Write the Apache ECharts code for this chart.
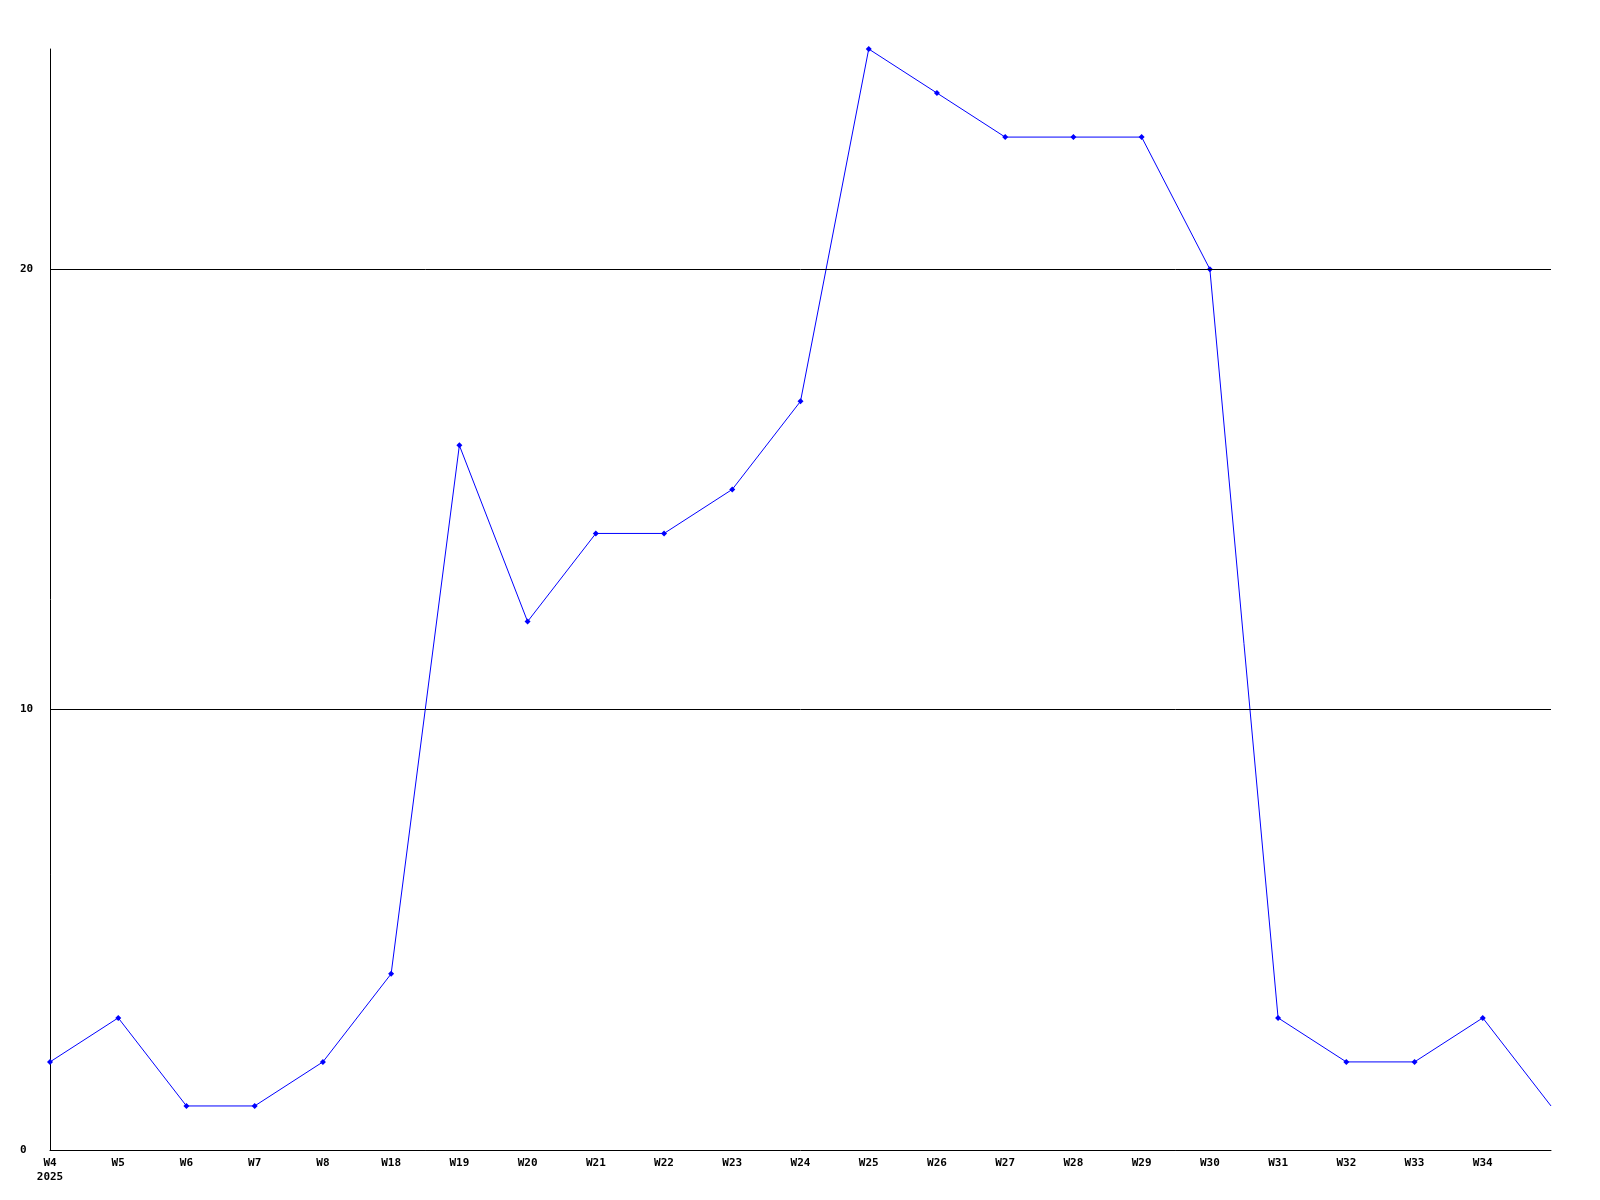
<!DOCTYPE html>
<html>
<head>
<meta charset="utf-8">
<script src="https://cdn.jsdelivr.net/npm/echarts@6/dist/echarts.min.js"></script>
<style>
html,body{margin:0;padding:0;background:#fff;}
#chart{width:1600px;height:1200px;}
</style>
</head>
<body>
<div id="chart"></div>
<script>
const categories = ['W4\n2025','W5','W6','W7','W8','W18','W19','W20','W21','W22','W23','W24','W25','W26','W27','W28','W29','W30','W31','W32','W33','W34',''];
const values = [2,3,1,1,2,4,16,12,14,14,15,17,25,24,23,23,23,20,3,2,2,3,1];
const gridLines = [10,20];

const chart = echarts.init(document.getElementById('chart'));
const font = {fontFamily:'DejaVu Sans Mono', fontWeight:'bold', fontSize:11, color:'#000'};
chart.setOption({
  animation:false,
  backgroundColor:'#fff',
  grid:{left:50,right:49,top:49,bottom:50,containLabel:false},
  xAxis:{
    type:'category',
    data:categories,
    boundaryGap:false,
    axisLine:{show:true,lineStyle:{color:'#000',width:1}},
    axisTick:{show:false},
    splitLine:{show:false},
    axisLabel:Object.assign({interval:0,margin:6,lineHeight:14,align:'center'},font)
  },
  yAxis:{
    type:'value',
    min:0,max:25,interval:10,
    axisLine:{show:true,lineStyle:{color:'#000',width:1}},
    axisTick:{show:false},
    splitLine:{show:false},
    axisLabel:Object.assign({margin:30,align:'left',showMaxLabel:false,padding:[2,0,0,0]},font)
  },
  series:[{
    type:'line',
    data:values.map((v,i)=> i===values.length-1 ? {value:v,symbol:'none'} : v),
    symbol:'diamond',
    symbolSize:6,
    showAllSymbol:true,
    lineStyle:{color:'#0000ff',width:1},
    itemStyle:{color:'#0000ff'},
    markLine:{
      silent:true,
      symbol:['none','none'],
      label:{show:false},
      lineStyle:{color:'#000',width:1,type:'solid'},
      data:gridLines.map(v=>({yAxis:v}))
    }
  }]
});
</script>
</body>
</html>
